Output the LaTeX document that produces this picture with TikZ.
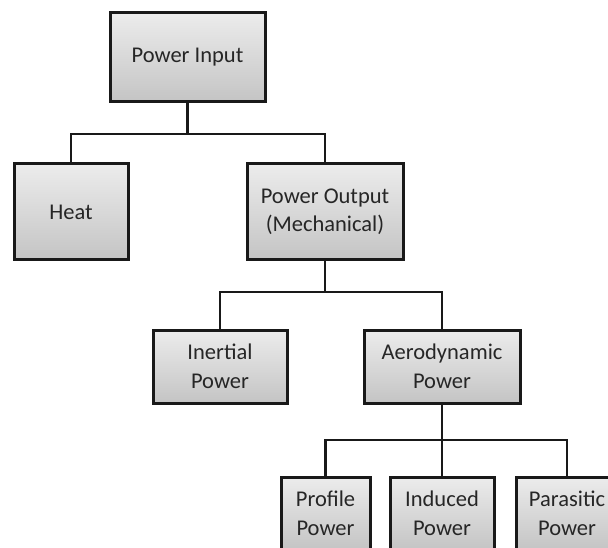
\documentclass[tikz,border=0pt]{standalone}
\usepackage{fontspec}
\setmainfont{Carlito}
\usetikzlibrary{shadows}
\definecolor{txtc}{RGB}{38,38,38}
\definecolor{topc}{RGB}{236,236,236}
\definecolor{botc}{RGB}{196,196,196}
\definecolor{edgec}{RGB}{25,25,25}
\tikzset{
  pbox/.style={draw=edgec, line width=3pt, top color=topc, bottom color=botc,
    inner sep=0pt, align=center, text=txtc,
    font=\fontsize{22.5}{28.5}\selectfont,
    drop shadow={shadow xshift=1.5pt, shadow yshift=-1.5pt, opacity=0.25}},
  conn/.style={draw=edgec, line width=2.5pt}
}
\begin{document}
\begin{tikzpicture}[x=1pt,y=-1pt]
\clip (0,0) rectangle (608,548);
\fill[white] (0,0) rectangle (608,548);
\node[pbox, minimum width=155pt, minimum height=89pt] (pin) at (187.5,57.5) {Power Input};
\node[pbox, minimum width=114pt, minimum height=96pt] (heat) at (71,212) {Heat};
\node[pbox, minimum width=156pt, minimum height=96pt] (pout) at (325,212) {Power Output\\(Mechanical)};
\node[pbox, minimum width=134pt, minimum height=73pt] (inert) at (220,366.5) {Inertial\\Power};
\node[pbox, minimum width=156pt, minimum height=73pt] (aero) at (442,366.5) {Aerodynamic\\Power};
\node[pbox, minimum width=89pt, minimum height=73pt] (prof) at (325.5,513.5) {Profile\\Power};
\node[pbox, minimum width=104pt, minimum height=73pt] (ind) at (442,513.5) {Induced\\Power};
\node[pbox, minimum width=102pt, minimum height=73pt] (para) at (567,513.5) {Parasitic\\Power};
\coordinate (b1) at (187.5,134);
\coordinate (b2) at (325,292);
\coordinate (b3) at (442,440);
\draw[conn] (pin.south) -- (b1);
\draw[conn] (heat.north) |- (b1) -| (pout.north);
\draw[conn] (pout.south) -- (b2);
\draw[conn] (inert.north) |- (b2) -| (aero.north);
\draw[conn] (aero.south) -- (ind.north);
\draw[conn] (prof.north) |- (b3) -| (para.north);
\end{tikzpicture}
\end{document}
